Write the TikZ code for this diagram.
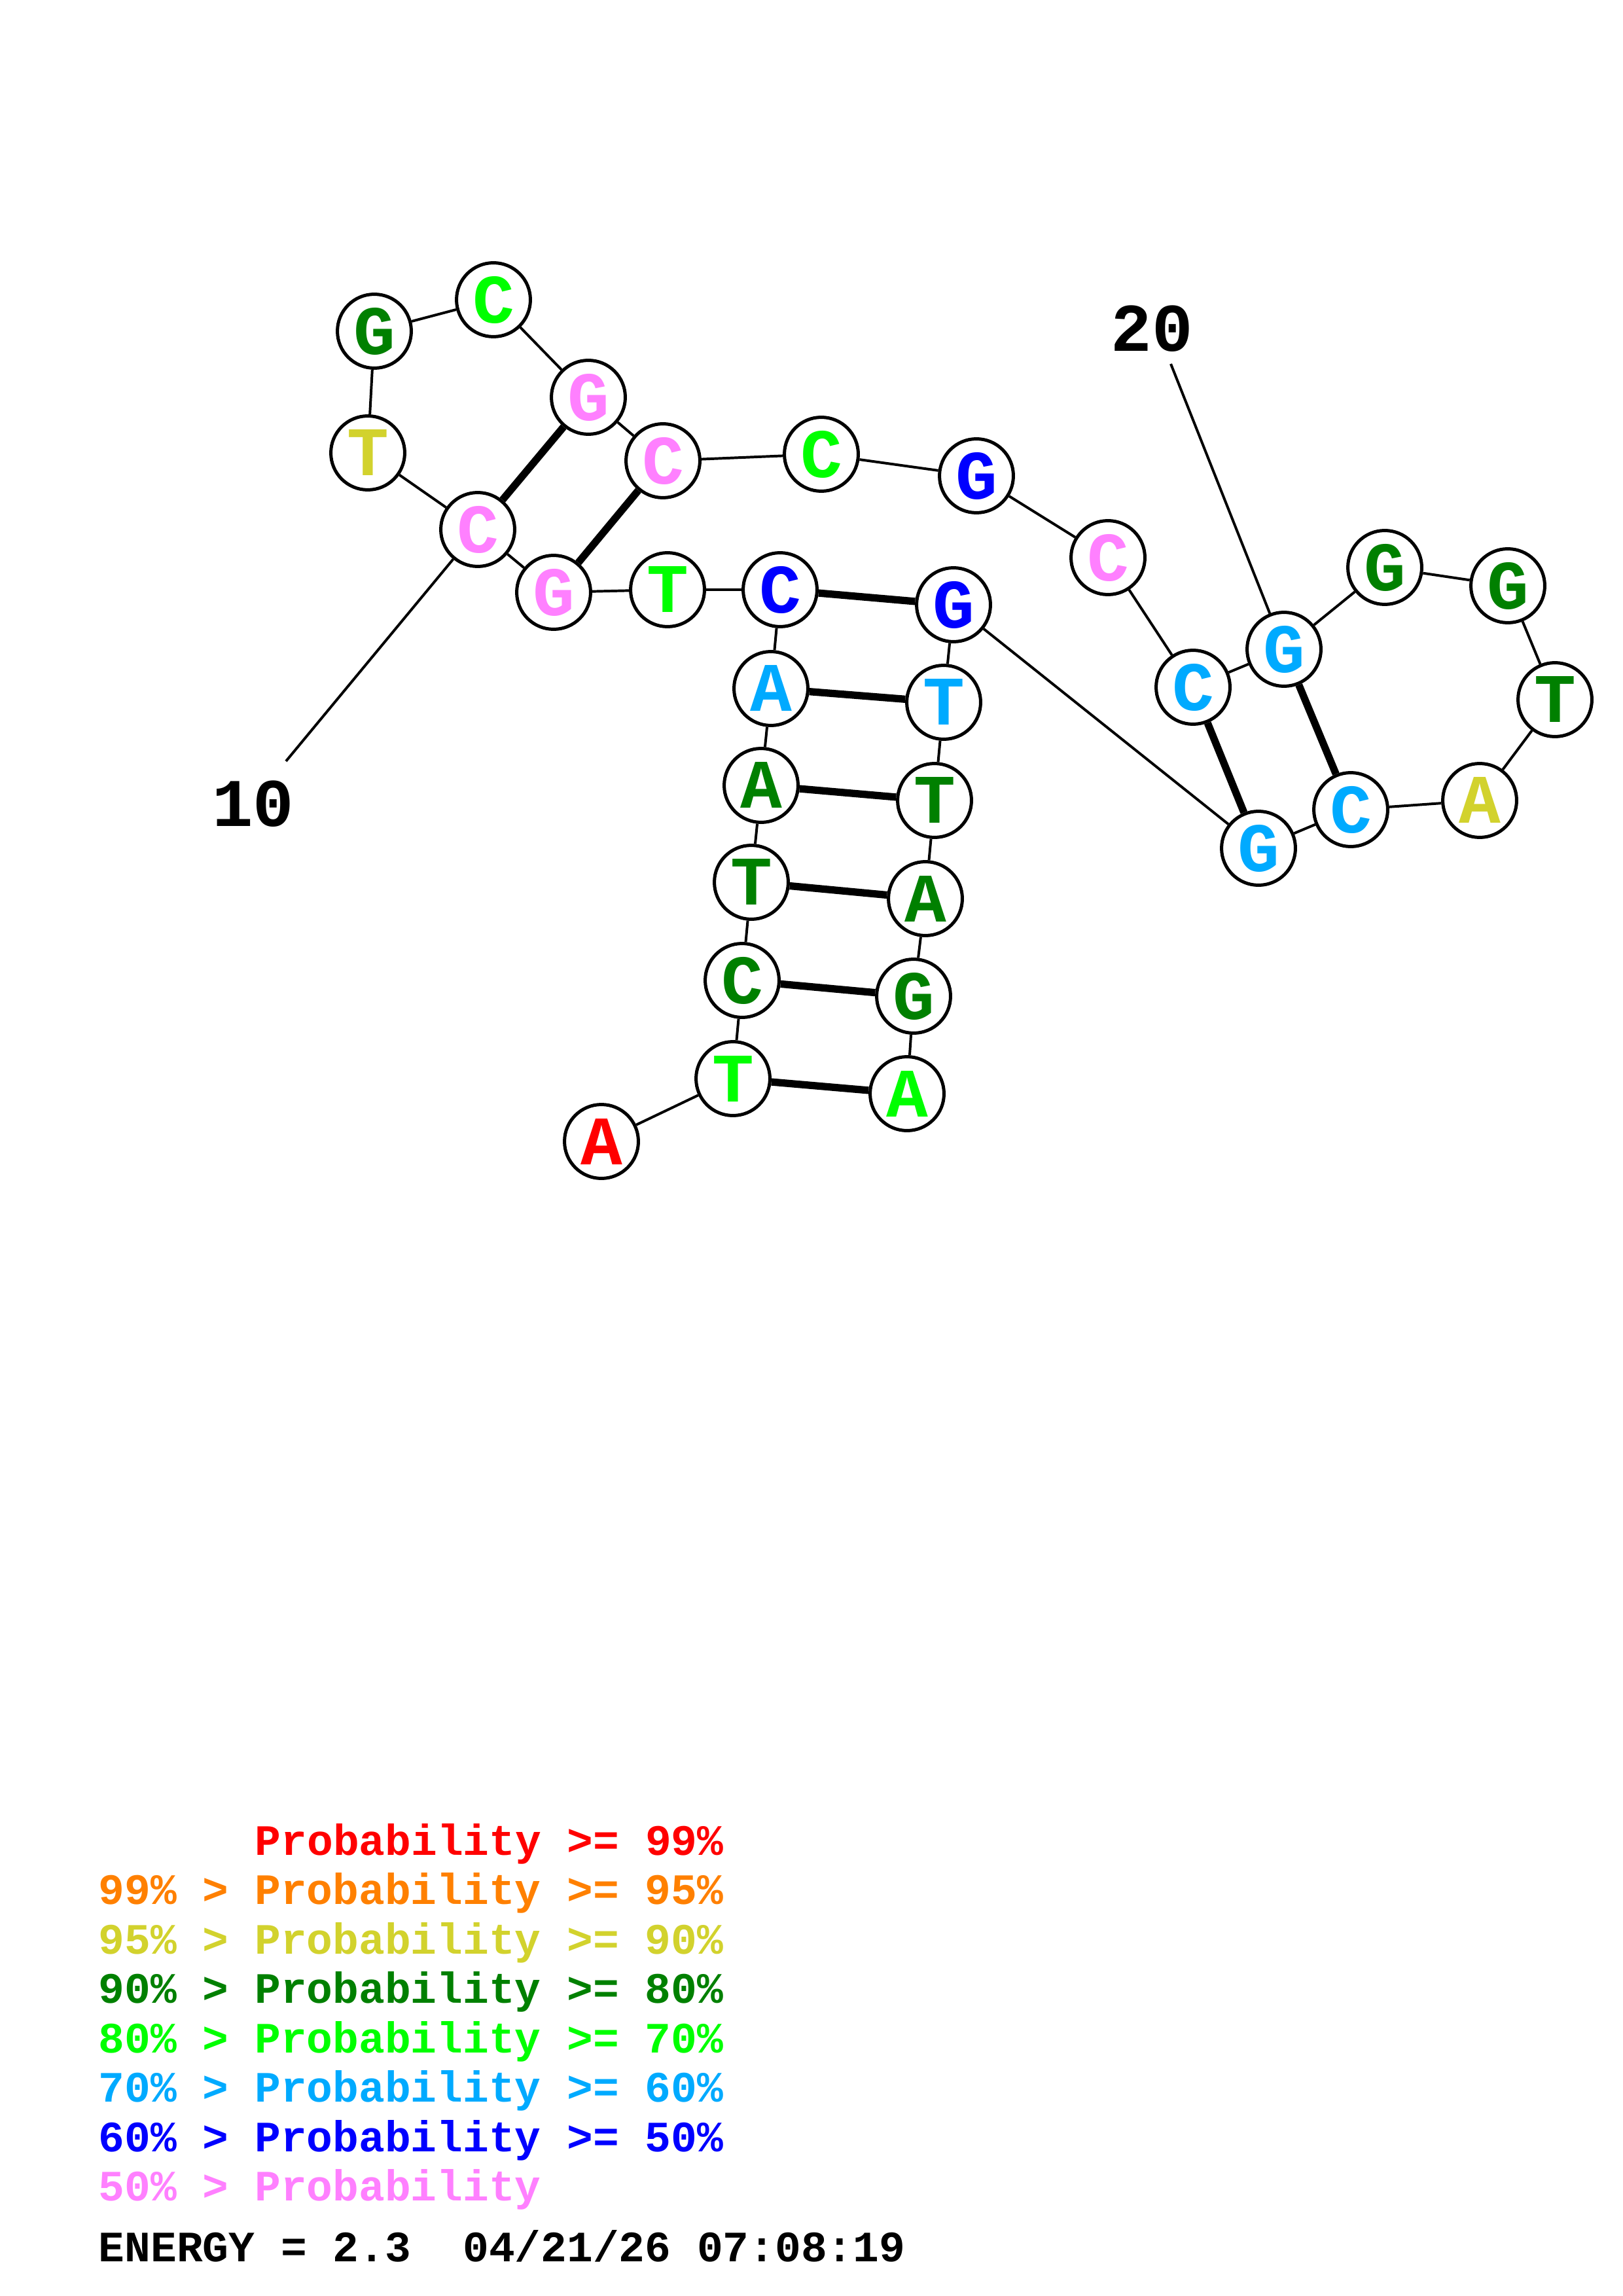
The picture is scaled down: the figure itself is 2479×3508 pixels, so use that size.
\documentclass[tikz,border=0pt]{standalone}
\usepackage{fontspec}
\newfontfamily\lmono{Liberation Mono}
\definecolor{cred}{RGB}{255,0,0}
\definecolor{corange}{RGB}{255,128,0}
\definecolor{cyellow}{RGB}{210,210,45}
\definecolor{cdkgreen}{RGB}{0,128,0}
\definecolor{clime}{RGB}{0,255,0}
\definecolor{csky}{RGB}{0,170,255}
\definecolor{cblue}{RGB}{0,0,255}
\definecolor{cpink}{RGB}{255,128,255}
\begin{document}
\begin{tikzpicture}[x=0.24pt,y=-0.24pt,
  nt/.style={circle, draw=black, line width=1.2pt, fill=white, minimum size=27.1pt, inner sep=0pt,
    font=\lmono\bfseries\fontsize{25.5}{25.5}\selectfont},
  bb/.style={line width=0.95pt},
  bp/.style={line width=2.7pt},
  numlab/.style={inner sep=0pt, font=\lmono\bfseries\fontsize{25}{25}\selectfont},
  lg/.style={anchor=base west, inner sep=0pt, font=\lmono\bfseries\fontsize{15.9}{15.9}\selectfont}]
\useasboundingbox (0,0) rectangle (2479,3508);
\fill[white] (0,0) rectangle (2479,3508);
% nucleotides
\node[nt, text=cred]     (n1)  at (919,1744) {A};
\node[nt, text=clime]    (n2)  at (1120,1648) {T};
\node[nt, text=cdkgreen] (n3)  at (1134,1498) {C};
\node[nt, text=cdkgreen] (n4)  at (1148,1348) {T};
\node[nt, text=cdkgreen] (n5)  at (1163,1200) {A};
\node[nt, text=csky]     (n6)  at (1178,1052) {A};
\node[nt, text=cblue]    (n7)  at (1192,901) {C};
\node[nt, text=clime]    (n8)  at (1020,901) {T};
\node[nt, text=cpink]    (n9)  at (846,905) {G};
\node[nt, text=cpink]    (n10) at (730,809) {C};
\node[nt, text=cyellow]  (n11) at (562,692) {T};
\node[nt, text=cdkgreen] (n12) at (572,506) {G};
\node[nt, text=clime]    (n13) at (754,458) {C};
\node[nt, text=cpink]    (n14) at (899,607) {G};
\node[nt, text=cpink]    (n15) at (1013,704) {C};
\node[nt, text=clime]    (n16) at (1255,694) {C};
\node[nt, text=cblue]    (n17) at (1492,727) {G};
\node[nt, text=cpink]    (n18) at (1693,852) {C};
\node[nt, text=csky]     (n19) at (1823,1050) {C};
\node[nt, text=csky]     (n20) at (1962,992) {G};
\node[nt, text=cdkgreen] (n21) at (2116,867) {G};
\node[nt, text=cdkgreen] (n22) at (2304,895) {G};
\node[nt, text=cdkgreen] (n23) at (2376,1069) {T};
\node[nt, text=cyellow]  (n24) at (2261,1223) {A};
\node[nt, text=csky]     (n25) at (2064,1237) {C};
\node[nt, text=csky]     (n26) at (1923,1296) {G};
\node[nt, text=cblue]    (n27) at (1457,924) {G};
\node[nt, text=csky]     (n28) at (1442,1073) {T};
\node[nt, text=cdkgreen] (n29) at (1428,1223) {T};
\node[nt, text=cdkgreen] (n30) at (1414,1373) {A};
\node[nt, text=cdkgreen] (n31) at (1396,1522) {G};
\node[nt, text=clime]    (n32) at (1386,1671) {A};
% backbone
\foreach \i [evaluate=\i as \j using int(\i+1)] in {1,...,31}
  \draw[bb] (n\i) -- (n\j);
% base pairs
\foreach \i/\j in {2/32,3/31,4/30,5/29,6/28,7/27,9/15,10/14,19/26,20/25}
  \draw[bp] (n\i) -- (n\j);
% position labels
\node[numlab] (lab10) at (387,1228) {10};
\coordinate (c10) at (437,1163);
\draw[bb] (n10) -- (c10);
\node[numlab] (lab20) at (1760,502) {20};
\coordinate (c20) at (1789,556);
\draw[bb] (n20) -- (c20);
% legend
\node[lg, text=cred]     (leg1) at (389,2834) {Probability >= 99\%};
\node[lg, text=corange]  (leg2) at (150,2909) {99\% > Probability >= 95\%};
\node[lg, text=cyellow]  (leg3) at (150,2985) {95\% > Probability >= 90\%};
\node[lg, text=cdkgreen] (leg4) at (150,3060) {90\% > Probability >= 80\%};
\node[lg, text=clime]    (leg5) at (150,3136) {80\% > Probability >= 70\%};
\node[lg, text=csky]     (leg6) at (150,3211) {70\% > Probability >= 60\%};
\node[lg, text=cblue]    (leg7) at (150,3287) {60\% > Probability >= 50\%};
\node[lg, text=cpink]    (leg8) at (150,3362) {50\% > Probability};
\node[lg, text=black]    (energy) at (150,3455) {ENERGY = 2.3~~04/21/26 07:08:19};
\end{tikzpicture}
\end{document}
